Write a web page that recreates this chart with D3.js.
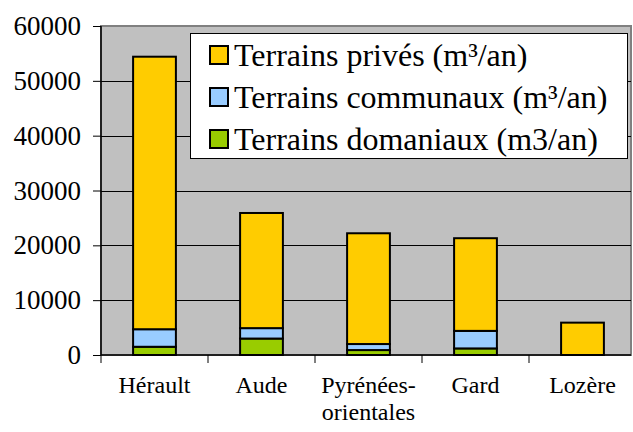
<!DOCTYPE html>
<html>
 <head>
  <meta charset="utf-8">
  <title>Terrains</title>
  <script src="https://cdnjs.cloudflare.com/ajax/libs/d3/7.8.5/d3.min.js"></script>
  <style>
   body { margin: 0; background: #fff; }
  </style>
 </head>
 <body>
  <script>
    // data
    var categories = ["Hérault", "Aude", "Pyrénées-|orientales", "Gard", "Lozère"];
    var domaniaux = [1500, 3000, 900, 1200, 0];
    var communaux = [3200, 1900, 1100, 3200, 0];
    var prives = [49700, 21000, 20200, 16900, 5900];
    var seriesNames = ["Terrains privés (m³/an)", "Terrains communaux (m³/an)", "Terrains domaniaux (m3/an)"];
    var seriesColors = ["#FFCC00", "#99CCFF", "#99CC00"];
    var yTicks = [0, 10000, 20000, 30000, 40000, 50000, 60000];

    var FONT = "'Liberation Serif'";
    var width = 633, height = 432;
    var plotL = 101, plotR = 636, plotT = 26, plotB = 355, plotEdge = 631;

    var svg = d3.select("body").append("svg")
                .attr("width", width)
                .attr("height", height)
                .style("font-family", FONT);

    var x = d3.scaleBand().domain(categories).range([plotL, plotR])
              .paddingInner(0.6).paddingOuter(0.3);
    var y = d3.scaleLinear().domain([0, 60000]).range([plotB, plotT]);

    // plot background
    svg.append("rect")
       .attr("x", plotL).attr("y", plotT)
       .attr("width", plotEdge - plotL).attr("height", plotB - plotT)
       .attr("fill", "#C0C0C0")
       .attr("stroke", "#808080").attr("stroke-width", 2);

    // gridlines
    svg.append("g").selectAll("line")
       .data(yTicks.slice(1, -1))
       .enter().append("line")
       .attr("x1", plotL).attr("x2", plotEdge)
       .attr("y1", function(d) { return Math.round(y(d)) + 0.5; })
       .attr("y2", function(d) { return Math.round(y(d)) + 0.5; })
       .attr("stroke", "#000").attr("stroke-width", 1);

    // stacked bars
    var rows = categories.map(function(c, i) {
      return { cat: c, dom: domaniaux[i], com: communaux[i], pri: prives[i] };
    });
    var layers = d3.stack().keys(["dom", "com", "pri"])(rows);
    var colorByKey = { dom: seriesColors[2], com: seriesColors[1], pri: seriesColors[0] };

    layers.forEach(function(layer) {
      svg.append("g").selectAll("rect")
         .data(layer.filter(function(d) { return d[1] > d[0]; }))
         .enter().append("rect")
         .attr("x", function(d) { return x(d.data.cat); })
         .attr("width", x.bandwidth())
         .attr("y", function(d) { return y(d[1]); })
         .attr("height", function(d) { return y(d[0]) - y(d[1]); })
         .attr("fill", colorByKey[layer.key])
         .attr("stroke", "#000").attr("stroke-width", 2);
    });

    // y axis
    var yAxis = d3.axisLeft(y).tickValues(yTicks).tickSize(8).tickPadding(12)
                  .tickFormat(d3.format("d"));
    var gy = svg.append("g").attr("transform", "translate(" + plotL + ",0)").call(yAxis);
    gy.attr("font-family", null).attr("font-size", null);
    gy.select(".domain").attr("stroke", "#000").attr("stroke-width", 1.5)
      .attr("d", "M0," + plotB + "V" + plotT);
    gy.selectAll("text").style("font-size", "27px").style("font-family", FONT)
      .attr("fill", "#000");

    // x axis
    var gx = svg.append("g").attr("transform", "translate(0," + plotB + ")");
    gx.append("line").attr("x1", plotL).attr("x2", plotEdge)
      .attr("stroke", "#000").attr("stroke-width", 1.5);
    var step = x.step();
    var edges = d3.range(categories.length).map(function(i) { return plotL + i * step; });
    gx.selectAll(".tk").data(edges).enter().append("line")
      .attr("x1", function(d) { return d; }).attr("x2", function(d) { return d; })
      .attr("y1", 0).attr("y2", 8)
      .attr("stroke", "#000").attr("stroke-width", 1);
    var labels = gx.selectAll(".lbl").data(categories).enter().append("text")
      .attr("text-anchor", "middle")
      .attr("x", function(d) { return x(d) + x.bandwidth() / 2; })
      .attr("y", 38)
      .style("font-family", FONT)
      .style("font-size", "24px");
    labels.each(function(d) {
      var parts = d.split("|");
      var t = d3.select(this);
      parts.forEach(function(p, i) {
        t.append("tspan").attr("x", t.attr("x")).attr("dy", i ? 27 : 0).text(p);
      });
    });

    // legend
    var lg = svg.append("g");
    lg.append("rect").attr("x", 190.5).attr("y", 33.5).attr("width", 437).attr("height", 125)
      .attr("fill", "#fff").attr("stroke", "#000").attr("stroke-width", 1);
    var items = lg.selectAll(".it").data(seriesNames).enter().append("g")
      .attr("transform", function(d, i) { return "translate(0," + (55 + i * 42) + ")"; });
    items.append("rect").attr("x", 210).attr("y", -9).attr("width", 18).attr("height", 18)
      .attr("fill", function(d, i) { return seriesColors[i]; })
      .attr("stroke", "#000").attr("stroke-width", 2);
    items.append("text").attr("x", 234).attr("y", 11)
      .style("font-family", FONT)
      .style("font-size", "32px").text(function(d) { return d; });
  </script>
 </body>
</html>
